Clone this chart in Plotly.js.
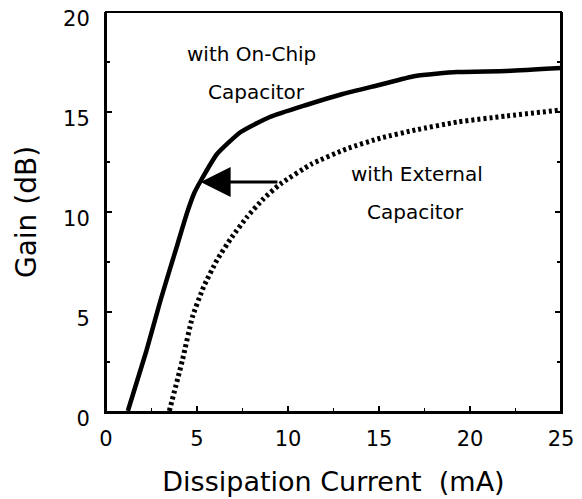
<!DOCTYPE html>
<html>
<head>
<meta charset="utf-8">
<script src="https://cdn.plot.ly/plotly-3.0.1.min.js"></script>
<style>
  html, body { margin: 0; padding: 0; background: #fff; }
  #chart { width: 582px; height: 499px; }
</style>
</head>
<body>
<div id="chart"></div>
<script>
// Gain vs dissipation current
const onChipCurrent = [1.2, 2.2, 3.0, 3.9, 4.45, 4.85, 5.2, 6.1, 7.4, 9.0, 11.0, 13.0, 15.0, 17.0, 19.3, 22.0, 25.0];
const onChipGain    = [0.05, 3.0, 5.6, 8.3, 9.95, 10.95, 11.55, 12.9, 14.0, 14.75, 15.35, 15.9, 16.35, 16.8, 17.0, 17.05, 17.2];

const externalCurrent = [3.48, 4.2, 4.75, 5.36, 6.1, 6.92, 7.75, 8.66, 9.58, 11.3, 13.2, 15.1, 17.0, 19.3, 22.0, 25.0];
const externalGain    = [0.05, 2.6, 4.75, 6.25, 7.6, 8.75, 9.75, 10.67, 11.4, 12.4, 13.15, 13.7, 14.1, 14.5, 14.8, 15.1];

const xTickVals = [0, 5, 10, 15, 20, 25];
const yTickVals = [0, 5, 10, 15, 20];

const labelOnChip = ["with On-Chip", "Capacitor"];
const labelExternal = ["with External", "Capacitor"];
const arrowFrom = [9.5, 11.5];
const arrowTo = [5.2, 11.5];

const FONT = "DejaVu Sans, Verdana, sans-serif";

const traces = [
  {
    x: onChipCurrent, y: onChipGain, type: "scatter", mode: "lines",
    line: { color: "#000", width: 4.5, shape: "spline", smoothing: 0.5 },
    hoverinfo: "skip", showlegend: false
  },
  {
    x: externalCurrent, y: externalGain, type: "scatter", mode: "lines",
    line: { color: "#000", width: 5, dash: "3px,3px", shape: "spline", smoothing: 0.5 },
    hoverinfo: "skip", showlegend: false
  }
];

const annFont = { family: FONT, size: 20, color: "#000" };
const layout = {
  width: 582, height: 499,
  margin: { l: 106, r: 21, t: 12, b: 87 },
  paper_bgcolor: "#fff", plot_bgcolor: "#fff",
  font: { family: FONT, color: "#000" },
  xaxis: {
    range: [0, 25], tickvals: xTickVals, ticktext: xTickVals.map(String),
    ticks: "inside", ticklen: 6, tickwidth: 1.5, tickcolor: "#000",
    minor: { dtick: 2.5, ticks: "inside", ticklen: 4, tickwidth: 1.5, tickcolor: "#000" },
    showline: true, linecolor: "#000", linewidth: 2, mirror: false,
    showgrid: false, zeroline: false,
    tickfont: { family: FONT, size: 21, color: "#000" },
    ticklabelstandoff: 7,
    title: { text: "Dissipation Current  (mA)", font: { family: FONT, size: 27, color: "#000" }, standoff: 22 }
  },
  yaxis: {
    range: [0, 20], tickvals: yTickVals, ticktext: yTickVals.map(String),
    ticks: "inside", ticklen: 6, tickwidth: 1.5, tickcolor: "#000",
    minor: { dtick: 2.5, ticks: "inside", ticklen: 4, tickwidth: 1.5, tickcolor: "#000" },
    showline: true, linecolor: "#000", linewidth: 2, mirror: "ticks",
    showgrid: false, zeroline: false,
    tickfont: { family: FONT, size: 21, color: "#000" },
    ticklabelstandoff: 10, ticklabelshift: 7,
    title: { text: "Gain (dB)", font: { family: FONT, size: 28, color: "#000" }, standoff: 18 }
  },
  shapes: [
    { type: "rect", xref: "paper", yref: "paper", x0: 0, x1: 1, y0: 0, y1: 1,
      line: { color: "#000", width: 2 }, fillcolor: "rgba(0,0,0,0)", layer: "above" }
  ],
  annotations: [
    { x: 8.0, y: 17.9, xref: "x", yref: "y", text: labelOnChip[0], showarrow: false, font: annFont },
    { x: 8.25, y: 16.0, xref: "x", yref: "y", text: labelOnChip[1], showarrow: false, font: annFont },
    { x: 17.1, y: 11.9, xref: "x", yref: "y", text: labelExternal[0], showarrow: false, font: annFont },
    { x: 17.0, y: 10.0, xref: "x", yref: "y", text: labelExternal[1], showarrow: false, font: annFont },
    {
      x: arrowTo[0], y: arrowTo[1], ax: arrowFrom[0], ay: arrowFrom[1],
      xref: "x", yref: "y", axref: "x", ayref: "y",
      text: "", showarrow: true, arrowhead: 2, arrowsize: 2, arrowwidth: 3, arrowcolor: "#000", standoff: 0
    }
  ]
};

Plotly.newPlot("chart", traces, layout, { staticPlot: true, displayModeBar: false });
</script>
</body>
</html>
